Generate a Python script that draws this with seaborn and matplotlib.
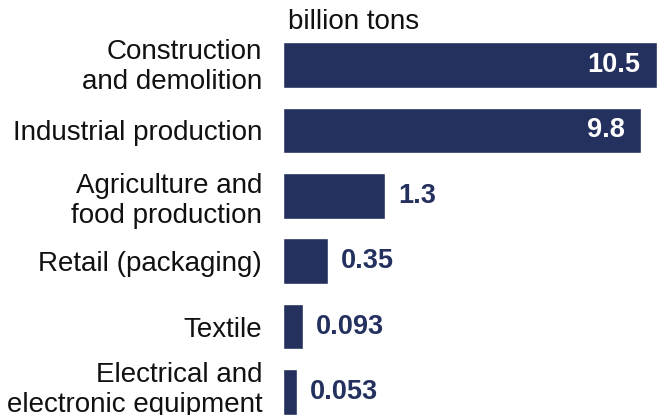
import numpy as np
import pandas as pd
import matplotlib
matplotlib.use("Agg")
import matplotlib.pyplot as plt
import matplotlib.transforms as mtransforms
import seaborn as sns

categories = ["Construction\nand demolition", "Industrial production",
              "Agriculture and\nfood production", "Retail (packaging)",
              "Textile", "Electrical and\nelectronic equipment"]
values = [10.5, 9.8, 1.3, 0.35, 0.093, 0.053]
value_labels = ["10.5", "9.8", "1.3", "0.35", "0.093", "0.053"]
unit_label = "billion tons"

sns.set_theme(style="white")
plt.rcParams["font.family"] = ["Liberation Sans", "DejaVu Sans"]

navy = "#24305E"
df = pd.DataFrame({"category": categories, "value": values})

W, H, DPI = 659, 415, 100
fig = plt.figure(figsize=(W / DPI, H / DPI), dpi=DPI)
slot = 65.4
top_px = 32.3
ax_h = slot * 6
ax = fig.add_axes([283 / W, (H - top_px - ax_h) / H, (W - 283) / W, ax_h / H])

P = 0.62
def fwd(x):
    x = np.asarray(x, dtype=float)
    return np.sign(x) * np.abs(x) ** P
def inv(y):
    y = np.asarray(y, dtype=float)
    return np.sign(y) * np.abs(y) ** (1 / P)

ax.set_xscale("function", functions=(fwd, inv))
sns.barplot(data=df, x="value", y="category", orient="h", color=navy,
            saturation=1, width=0.70, ax=ax)
ax.set_xlim(0, 10.6)
ax.set_ylim(5.5, -0.5)

for i, (v, lab) in enumerate(zip(values, value_labels)):
    if i < 2:
        ax.annotate(lab, (v, i), xytext=(-12, 0), textcoords="offset points",
                    ha="right", va="center", color="white", fontsize=19.5,
                    fontweight="bold")
    else:
        ax.annotate(lab, (v, i), xytext=(9, 0), textcoords="offset points",
                    ha="left", va="center", color=navy, fontsize=19.5,
                    fontweight="bold")

ax.set_xlabel("")
ax.set_ylabel("")
ax.set_xticks([])
ax.tick_params(axis="y", length=0, pad=15, labelsize=20, labelcolor="#111111")
shifts = [3, 0, 0, 0, 0, 7]
for lbl, sh in zip(ax.get_yticklabels(), shifts):
    lbl.set_linespacing(1.2)
    if sh:
        lbl.set_transform(lbl.get_transform() +
                          mtransforms.ScaledTranslation(0, sh / DPI, fig.dpi_scale_trans))
for s in ax.spines.values():
    s.set_visible(False)

fig.text(288 / W, 1 - 22 / H, unit_label, ha="left", va="center",
         fontsize=20, color="#111111")

fig.savefig("out.png", dpi=DPI)
